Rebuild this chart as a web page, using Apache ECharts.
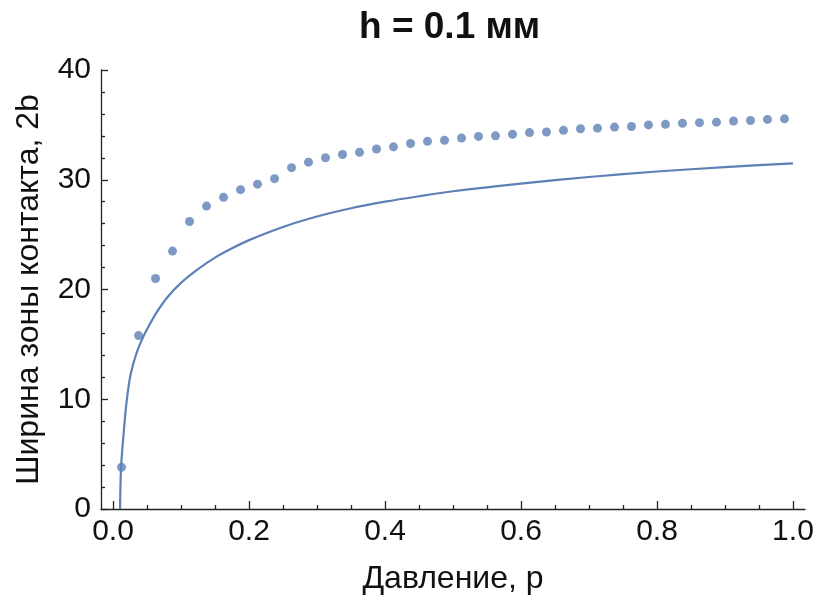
<!DOCTYPE html>
<html>
<head>
<meta charset="utf-8">
<script src="https://cdn.jsdelivr.net/npm/echarts@6.0.0/dist/echarts.min.js"></script>
<style>
  html, body { margin: 0; padding: 0; background: #fff; }
  #chart { width: 816px; height: 605px; }
</style>
</head>
<body>
<div id="chart"></div>
<script>
// измеренные точки (p, 2b)
const pointP = [
  0.0125, 0.0375, 0.0625, 0.0875, 0.1125, 0.1375, 0.1625, 0.1875, 0.2125, 0.2375,
  0.2625, 0.2875, 0.3125, 0.3375, 0.3625, 0.3875, 0.4125, 0.4375, 0.4625, 0.4875,
  0.5125, 0.5375, 0.5625, 0.5875, 0.6125, 0.6375, 0.6625, 0.6875, 0.7125, 0.7375,
  0.7625, 0.7875, 0.8125, 0.8375, 0.8625, 0.8875, 0.9125, 0.9375, 0.9625, 0.9875
];
const pointB = [
  3.8, 15.8, 21.0, 23.5, 26.2, 27.6, 28.4, 29.1, 29.6, 30.1,
  31.1, 31.6, 32.0, 32.3, 32.5, 32.8, 33.0, 33.3, 33.5, 33.6,
  33.8, 33.95, 34.0, 34.15, 34.3, 34.35, 34.5, 34.65, 34.7, 34.8,
  34.85, 35.0, 35.05, 35.15, 35.2, 35.25, 35.35, 35.4, 35.5, 35.55
];

// расчётная кривая
const curveP = [
  0.0103, 0.0118, 0.0152, 0.0191, 0.0225, 0.026, 0.034, 0.043, 0.052, 0.065, 0.08,
  0.1, 0.125, 0.15, 0.175, 0.2, 0.25, 0.3, 0.35, 0.4, 0.45,
  0.5, 0.6, 0.7, 0.8, 0.9, 1.0
];
const curveB = [
  0, 3.8, 6.6, 9.3, 11.0, 12.3, 14.1, 15.5, 16.6, 18.0, 19.3,
  20.6, 21.85, 22.9, 23.75, 24.5, 25.7, 26.65, 27.4, 28.0, 28.5,
  28.95, 29.65, 30.25, 30.75, 31.15, 31.5
];

const xMajor = [0, 0.2, 0.4, 0.6, 0.8, 1.0];
const xMinor = [0.05, 0.1, 0.15, 0.25, 0.3, 0.35, 0.45, 0.5, 0.55, 0.65, 0.7, 0.75, 0.85, 0.9, 0.95];

const blue = '#5E81B5';
const axisColor = '#222';
const font = 'Liberation Sans, Arial, sans-serif';
const xMin = -0.0177, xMax = 1.0177;

const chart = echarts.init(document.getElementById('chart'));
chart.setOption({
  animation: false,
  backgroundColor: '#fff',
  title: {
    text: 'h = 0.1 мм',
    left: 354,
    top: 4,
    textStyle: {fontFamily: font, fontSize: 37, fontWeight: 'bold', color: '#111'}
  },
  grid: {left: 101, right: 11, top: 70, bottom: 96, outerBoundsMode: 'none', containLabel: false},
  xAxis: [
    {
      type: 'value',
      min: xMin,
      max: xMax,
      name: 'Давление, р',
      nameLocation: 'middle',
      nameGap: 54,
      nameTextStyle: {fontFamily: font, fontSize: 32, color: '#111'},
      axisLine: {show: true, onZero: false, lineStyle: {color: axisColor, width: 1.3}},
      axisTick: {show: true, inside: true, length: 8, customValues: xMajor, lineStyle: {color: axisColor, width: 1.3}},
      axisLabel: {
        customValues: xMajor,
        fontFamily: font, fontSize: 30, color: '#111', margin: 8,
        formatter: v => v.toFixed(1)
      },
      splitLine: {show: false}
    },
    {
      type: 'value',
      position: 'bottom',
      min: xMin,
      max: xMax,
      axisLine: {show: false, onZero: false},
      axisTick: {show: true, inside: true, length: 4, customValues: xMinor, lineStyle: {color: axisColor, width: 1.3}},
      axisLabel: {show: false},
      splitLine: {show: false}
    }
  ],
  yAxis: {
    type: 'value',
    min: 0,
    max: 40,
    interval: 10,
    name: 'Ширина зоны контакта, 2b',
    nameLocation: 'middle',
    nameGap: 56,
    nameTextStyle: {fontFamily: font, fontSize: 32, color: '#111'},
    axisLine: {show: true, onZero: false, lineStyle: {color: axisColor, width: 1.3}},
    axisTick: {show: true, inside: true, length: 7, lineStyle: {color: axisColor, width: 1.3}},
    minorTick: {show: true, splitNumber: 5, length: 4, lineStyle: {color: axisColor, width: 1.3}},
    axisLabel: {fontFamily: font, fontSize: 30, color: '#111', margin: 10},
    splitLine: {show: false}
  },
  series: [
    {
      type: 'line',
      xAxisIndex: 0,
      data: curveP.map((p, i) => [p, curveB[i]]),
      showSymbol: false,
      smooth: 0.3,
      lineStyle: {color: blue, width: 2.2}
    },
    {
      type: 'scatter',
      xAxisIndex: 0,
      data: pointP.map((p, i) => [p, pointB[i]]),
      symbol: 'circle',
      symbolSize: 9,
      itemStyle: {color: blue}
    }
  ]
});
</script>
</body>
</html>
